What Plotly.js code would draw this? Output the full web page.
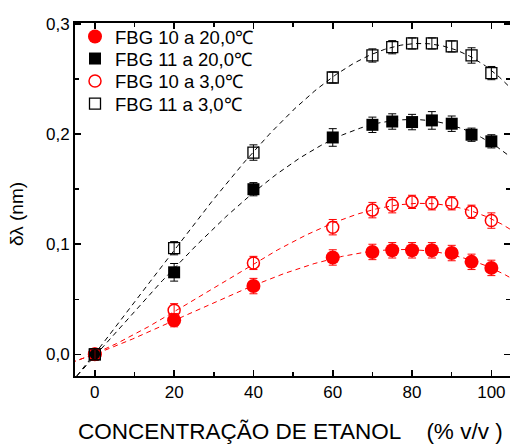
<!DOCTYPE html>
<html>
<head>
<meta charset="utf-8">
<script src="https://cdn.plot.ly/plotly-3.0.1.min.js"></script>
<style>html,body{margin:0;padding:0;background:#fff;}#chart{width:510px;height:444px;}</style>
</head>
<body>
<div id="chart"></div>
<script>
// Ethanol concentration (% v/v)
const concentration = [0, 20, 40, 60, 70, 75, 80, 85, 90, 95, 100];
// Wavelength shift (nm)
const fbg10_20C = [0, 0.031, 0.062, 0.088, 0.093, 0.0945, 0.0945, 0.0945, 0.092, 0.084, 0.0785];
const fbg11_20C = [0, 0.0745, 0.150, 0.197, 0.2085, 0.2115, 0.211, 0.2125, 0.2095, 0.1995, 0.1935];
const fbg10_3C  = [0, 0.040, 0.083, 0.1155, 0.131, 0.1355, 0.1385, 0.1372, 0.1372, 0.1295, 0.1215];
const fbg11_3C  = [0, 0.0964, 0.1833, 0.2515, 0.2715, 0.279, 0.2824, 0.2824, 0.2797, 0.2715, 0.2555];
// Error bars (nm)
const err10_20C = [0.005, 0.006, 0.007, 0.007, 0.007, 0.007, 0.007, 0.007, 0.007, 0.007, 0.007];
const err11_20C = [0.005, 0.008, 0.006, 0.008, 0.007, 0.007, 0.007, 0.008, 0.007, 0.006, 0.006];
const err10_3C  = [0.005, 0.006, 0.006, 0.007, 0.007, 0.007, 0.006, 0.006, 0.006, 0.006, 0.007];
const err11_3C  = [0.005, 0.006, 0.007, 0.005, 0.006, 0.006, 0.005, 0.005, 0.005, 0.007, 0.006];
const seriesNames = ["FBG 10 a 20,0\u2103", "FBG 11 a 20,0\u2103", "FBG 10 a 3,0\u2103", "FBG 11 a 3,0\u2103"];

// least-squares cubic fit from the data
function polyfit(xs, ys, deg) {
  const n = deg + 1;
  const A = Array.from({length: n}, () => new Array(n + 1).fill(0));
  for (let i = 0; i < xs.length; i++) {
    for (let r = 0; r < n; r++) {
      for (let c = 0; c < n; c++) A[r][c] += Math.pow(xs[i], r + c);
      A[r][n] += ys[i] * Math.pow(xs[i], r);
    }
  }
  for (let p = 0; p < n; p++) {
    let m = p;
    for (let r = p + 1; r < n; r++) if (Math.abs(A[r][p]) > Math.abs(A[m][p])) m = r;
    [A[p], A[m]] = [A[m], A[p]];
    for (let r = 0; r < n; r++) {
      if (r === p) continue;
      const f = A[r][p] / A[p][p];
      for (let c = p; c <= n; c++) A[r][c] -= f * A[p][c];
    }
  }
  return A.map((row, i) => row[n] / row[i]);
}
function fitCurve(ys) {
  const co = polyfit(concentration, ys, 3);
  const fx = [], fy = [];
  for (let x = -6; x <= 106; x += 0.5) {
    fx.push(x);
    fy.push(co.reduce((s, c, i) => s + c * Math.pow(x, i), 0));
  }
  return {fx, fy};
}

const RED = '#ff0000', BLK = '#000000';
const traces = [];
[[fbg10_20C, RED], [fbg11_20C, BLK], [fbg10_3C, RED], [fbg11_3C, BLK]].forEach(([ys, col]) => {
  const f = fitCurve(ys);
  traces.push({x: f.fx, y: f.fy, mode: 'lines', showlegend: false, hoverinfo: 'skip',
    line: {color: col, width: 1, dash: '5px,4px'}});
});

function dataTrace(name, ys, errs, col, symbol, size, lw, legendId) {
  return {x: concentration, y: ys, name: name, mode: 'markers', type: 'scatter', legend: legendId,
    marker: {color: col, symbol: symbol, size: size, line: {color: col, width: lw}},
    error_y: {type: 'data', array: errs, visible: true, color: col, thickness: 1, width: 4}};
}
traces.push(dataTrace(seriesNames[0], fbg10_20C, err10_20C, RED, 'circle', 14, 0, 'legend'));
traces.push(dataTrace(seriesNames[1], fbg11_20C, err11_20C, BLK, 'square', 12, 0, 'legend2'));
traces.push(dataTrace(seriesNames[2], fbg10_3C, err10_3C, RED, 'circle-open', 12, 1.5, 'legend3'));
traces.push(dataTrace(seriesNames[3], fbg11_3C, err11_3C, BLK, 'square-open', 11, 1.3, 'legend4'));

const FONT = 'Liberation Sans, Arial, sans-serif';
function legendAt(yc) {
  return {x: 0, y: (376 - yc) / 353, xanchor: 'left', yanchor: 'middle', bgcolor: 'rgba(0,0,0,0)',
    font: {family: FONT, size: 18.5, color: '#000'}, itemsizing: 'trace'};
}
const layout = {
  width: 510, height: 444,
  margin: {l: 75, r: 0, t: 23, b: 68},
  paper_bgcolor: '#fff', plot_bgcolor: '#fff',
  separators: ',.',
  font: {family: FONT, color: '#000', size: 17},
  showlegend: true,
  legend: legendAt(37), legend2: legendAt(59), legend3: legendAt(81.5), legend4: legendAt(104),
  xaxis: {range: [-5, 104.7], tickmode: 'array', tickvals: [0, 20, 40, 60, 80, 100],
    ticks: 'inside', ticklen: 6, tickwidth: 1.5, tickcolor: '#000',
    showline: true, linewidth: 2, linecolor: '#000', mirror: 'ticks',
    showgrid: false, zeroline: false, tickfont: {size: 17},
    minor: {dtick: 10, tick0: 0, ticks: 'inside', ticklen: 4, tickcolor: '#000', tickwidth: 1.5, showgrid: false}},
  yaxis: {range: [-0.0197, 0.301], tickmode: 'array', tickvals: [0, 0.1, 0.2, 0.3],
    ticktext: ['0,0', '0,1', '0,2', '0,3'],
    ticks: 'inside', ticklen: 6, tickwidth: 1.5, tickcolor: '#000',
    showline: true, linewidth: 2, linecolor: '#000', mirror: 'ticks',
    showgrid: false, zeroline: false, tickfont: {size: 17},
    minor: {dtick: 0.05, tick0: 0, ticks: 'inside', ticklen: 4, tickcolor: '#000', tickwidth: 1.5, showgrid: false}},
  annotations: [
    {text: 'CONCENTRAÇÃO DE ETANOL&nbsp;&nbsp;&nbsp;&nbsp;(% v/v )', xref: 'paper', yref: 'paper',
     x: (290 - 75) / 435, y: -(432 - 376) / 353, xanchor: 'center', yanchor: 'middle', showarrow: false,
     font: {family: FONT, size: 22.5, color: '#000'}},
    {text: 'δλ (nm)', xref: 'paper', yref: 'paper', textangle: -90,
     x: (16 - 75) / 435, y: (376 - 214) / 353, xanchor: 'center', yanchor: 'middle', showarrow: false,
     font: {family: FONT, size: 19, color: '#000'}}
  ]
};
Plotly.newPlot('chart', traces, layout, {staticPlot: true, displayModeBar: false});
</script>
</body>
</html>
